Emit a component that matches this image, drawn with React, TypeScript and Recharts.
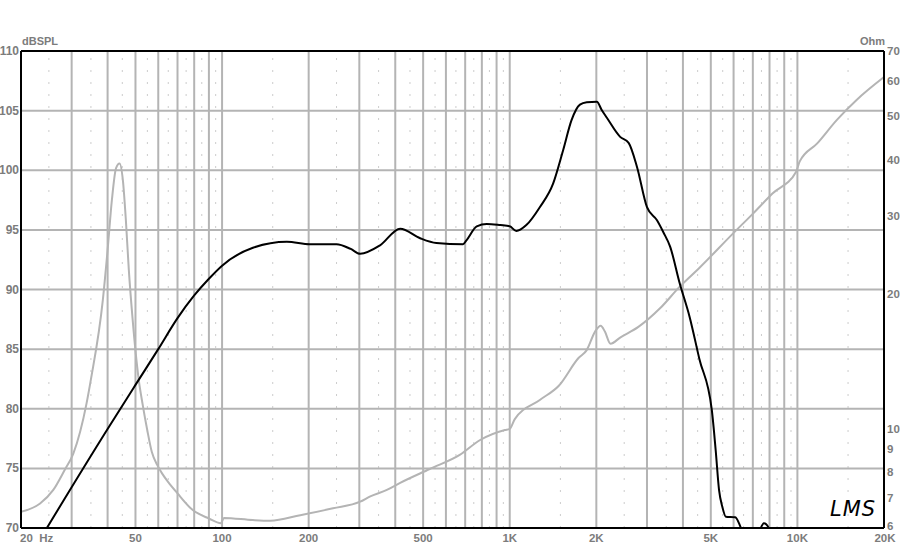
import { ComposedChart, Line, XAxis, YAxis, ReferenceLine } from 'recharts';

// SPL response (Hz, dB)
const splFreq = [20, 24.6, 40, 50, 60, 70, 80, 90, 100, 128, 168, 202, 250, 280, 302, 354, 416, 488, 556, 688, 706, 768, 832, 928, 1000, 1054, 1142, 1272, 1416, 1534, 1640, 1754, 1852, 2008, 2088, 2176, 2420, 2590, 2768, 3000, 3250, 3420, 3610, 3900, 4220, 4560, 5040, 5200, 5340, 5480, 5640, 6080, 6340, 6700, 7100, 7400, 7650, 7950, 8500, 10000, 20000];
const splDb = [66.4, 70, 78.3, 82.0, 85.0, 87.6, 89.5, 90.9, 92.0, 93.5, 94.0, 93.8, 93.8, 93.4, 93.0, 93.7, 95.1, 94.3, 93.9, 93.8, 94.1, 95.3, 95.5, 95.4, 95.3, 94.9, 95.4, 96.9, 98.9, 101.7, 104.2, 105.5, 105.7, 105.75, 105.05, 104.4, 102.8, 102.3, 100.3, 96.9, 95.8, 94.8, 93.6, 90.5, 87.7, 84.2, 79.9, 76.5, 73.2, 71.8, 70.95, 70.9, 70.1, 68.5, 68.5, 69.8, 70.4, 70.0, 67, 63, 55];

// impedance (Hz, Ohm)
const impFreq = [20, 23.3, 25.9, 28.4, 30.4, 33.8, 35.0, 38.5, 40.0, 41.4, 42.8, 44.0, 45.2, 46.3, 47.4, 48.9, 51.3, 53, 55, 57, 59.8, 62, 65, 69.9, 79.1, 90, 99, 101.5, 128, 147, 187, 243, 302, 326, 374, 416, 527, 670, 789, 962, 1000, 1040, 1272, 1484, 1734, 1852, 1980, 2071, 2142, 2240, 2420, 2800, 3330, 3900, 4560, 5990, 7010, 8190, 9900, 10180, 11720, 13720, 16060, 20000];
const impOhm = [6.52, 6.81, 7.3, 8.1, 8.8, 11.4, 12.9, 19.4, 25.1, 32.5, 38.3, 39.2, 36.0, 29.3, 22.7, 17.5, 12.9, 11.3, 9.9, 8.87, 8.25, 7.93, 7.6, 7.18, 6.58, 6.3, 6.15, 6.32, 6.25, 6.23, 6.41, 6.64, 6.87, 7.05, 7.3, 7.57, 8.13, 8.74, 9.44, 9.94, 10.0, 10.5, 11.6, 12.5, 14.4, 15.0, 16.5, 17.0, 16.5, 15.5, 16.0, 16.9, 18.6, 20.8, 22.9, 27.4, 30.3, 33.6, 37.6, 39.6, 43.5, 49.1, 54.4, 61.2];

const xTicks = [20, 50, 100, 200, 500, 1000, 2000, 5000, 10000, 20000];
const xTickLabels = ['20  Hz', '50', '100', '200', '500', '1K', '2K', '5K', '10K', '20K'];
const dbTicks = [70, 75, 80, 85, 90, 95, 100, 105, 110];
const ohmTicks = [6, 7, 8, 9, 10, 20, 30, 40, 50, 60, 70];
const majorGrid = [30, 40, 50, 60, 70, 80, 90, 100, 200, 300, 400, 500, 600, 700, 800, 900, 1000, 2000, 3000, 4000, 5000, 6000, 7000, 8000, 9000, 10000];
const minorGrid = [25, 35, 45, 55, 65, 75, 85, 95, 150, 250, 350, 450, 550, 650, 750, 850, 950, 1500, 2500, 3500, 4500, 5500, 6500, 7500, 8500, 9500, 15000];

const splData = splFreq.map((f, i) => ({ f, spl: splDb[i] }));
const impData = impFreq.map((f, i) => ({ f, z: impOhm[i] }));

const font = { fontFamily: '"Liberation Sans", Arial, sans-serif', fontWeight: 'bold' as const, fontSize: 12, fill: '#7c7c7c' };
const gridColor = '#b4b4b4';

const XTick = ({ x, payload, index }: any) => {
  const label = xTickLabels[index] ?? String(payload.value);
  let anchor: 'start' | 'middle' | 'end' = 'middle';
  let dx = 0;
  if (index === 0) { anchor = 'start'; dx = -1; }
  if (index === xTicks.length - 1) dx = 1;
  return (
    <text x={x + dx} y={542} textAnchor={anchor} style={{ whiteSpace: 'pre' }} {...font} fontSize={11.5}>
      {label}
    </text>
  );
};

const LeftTick = ({ y, payload }: any) => (
  <text x={19} y={y} textAnchor="end" dominantBaseline="central" {...font}>
    {payload.value}
  </text>
);

const RightTick = ({ y, payload }: any) => (
  <text x={887} y={payload.value === 6 ? y - 2 : y} textAnchor="start" dominantBaseline="central" {...font} fontSize={11.5}>
    {payload.value}
  </text>
);

export default function App() {
  return (
    <div style={{ position: 'absolute', left: 0, top: 0, width: 900, height: 545, background: '#fff' }}>
      <ComposedChart width={900} height={545} margin={{ top: 51, right: 0, bottom: 0, left: 0 }}>
        <XAxis
          dataKey="f"
          type="number"
          scale="log"
          domain={[20, 20000]}
          ticks={xTicks}
          interval={0}
          allowDataOverflow
          height={17}
          tickLine={false}
          axisLine={{ stroke: '#000', strokeWidth: 2 }}
          tick={<XTick />}
        />
        <YAxis
          yAxisId="db"
          domain={[70, 110]}
          ticks={dbTicks}
          interval={0}
          allowDataOverflow
          width={21}
          tickLine={false}
          axisLine={{ stroke: '#000', strokeWidth: 2 }}
          tick={<LeftTick />}
        />
        <YAxis
          yAxisId="ohm"
          orientation="right"
          scale="log"
          domain={[6, 70]}
          ticks={ohmTicks}
          interval={0}
          allowDataOverflow
          width={16}
          tickLine={false}
          axisLine={{ stroke: '#000', strokeWidth: 2 }}
          tick={<RightTick />}
        />
        {minorGrid.map((f) => (
          <ReferenceLine key={'m' + f} x={f} yAxisId="db" stroke="#cccccc" strokeWidth={1} strokeDasharray="2 10" />
        ))}
        {majorGrid.map((f) => (
          <ReferenceLine key={'g' + f} x={f} yAxisId="db" stroke={gridColor} strokeWidth={2} />
        ))}
        {dbTicks.slice(1, -1).map((v) => (
          <ReferenceLine key={'h' + v} y={v} yAxisId="db" stroke={gridColor} strokeWidth={2} />
        ))}
        <ReferenceLine y={110} yAxisId="db" stroke="#000" strokeWidth={2} />
        <Line
          data={impData}
          dataKey="z"
          yAxisId="ohm"
          type="monotone"
          stroke="#b4b4b4"
          strokeWidth={2}
          dot={false}
          isAnimationActive={false}
        />
        <Line
          data={splData}
          dataKey="spl"
          yAxisId="db"
          type="monotone"
          stroke="#000"
          strokeWidth={2}
          dot={false}
          isAnimationActive={false}
        />
      </ComposedChart>
      <div style={{ position: 'absolute', left: 22, top: 35, fontFamily: '"Liberation Sans", Arial, sans-serif', fontWeight: 'bold', fontSize: 11, color: '#7c7c7c' }}>
        dBSPL
      </div>
      <div style={{ position: 'absolute', left: 860, top: 35, fontFamily: '"Liberation Sans", Arial, sans-serif', fontWeight: 'bold', fontSize: 11, color: '#7c7c7c' }}>
        Ohm
      </div>
      <div style={{ position: 'absolute', left: 830, top: 497, fontFamily: '"DejaVu Sans", sans-serif', fontStyle: 'italic', fontSize: 21, color: '#000', letterSpacing: 1 }}>
        LMS
      </div>
    </div>
  );
}
